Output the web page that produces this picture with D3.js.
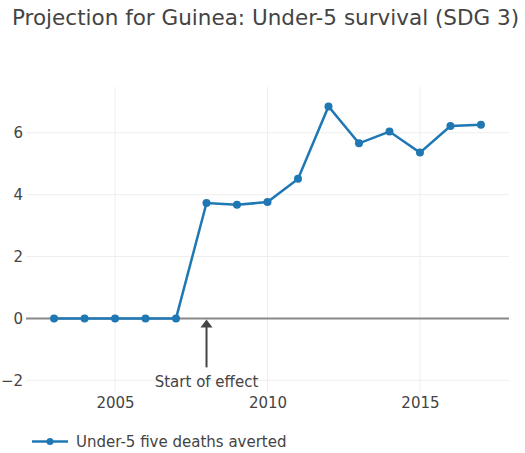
<!DOCTYPE html>
<html><head><meta charset="utf-8">
<script src="https://cdn.jsdelivr.net/npm/d3@7"></script>
<style>body{margin:0;background:#fff;} svg{display:block;}</style>
</head><body>
<svg id="c" width="525" height="453"></svg>
<script>
const years = [2003,2004,2005,2006,2007,2008,2009,2010,2011,2012,2013,2014,2015,2016,2017];
const averted = [0,0,0,0,0,3.73,3.67,3.76,4.51,6.85,5.66,6.04,5.36,6.22,6.26];
const xTicks = [2005,2010,2015];
const yTicks = [-2,0,2,4,6];
const titleText = "Projection for Guinea: Under-5 survival (SDG 3)";
const seriesName = "Under-5 five deaths averted";
const annotation = {year:2008, value:0, text:"Start of effect"};

const font = "Verdana, 'DejaVu Sans', sans-serif";
const svg = d3.select("#c");
const L=26, R=509, T=87, B=392;
const x = d3.scaleLinear().domain([2002.08,2017.92]).range([L,R]);
const y = d3.scaleLinear().domain([-2.38,7.48]).range([B,T]);
const color = "#1f77b4";
const textColor = "#444";

svg.append("text").attr("x",12).attr("y",25).attr("font-family",font).attr("font-size",21.5)
  .attr("fill",textColor).text(titleText);

// grid
const g = svg.append("g");
g.selectAll(".vg").data(xTicks).join("line").attr("x1",d=>x(d)).attr("x2",d=>x(d))
  .attr("y1",T).attr("y2",B).attr("stroke","#eee").attr("stroke-width",1);
g.selectAll(".hg").data(yTicks.filter(d=>d!==0)).join("line").attr("x1",L).attr("x2",R)
  .attr("y1",d=>y(d)).attr("y2",d=>y(d)).attr("stroke","#eee").attr("stroke-width",1);
// zero line
g.append("line").attr("x1",L).attr("x2",R).attr("y1",y(0)).attr("y2",y(0))
  .attr("stroke","#888").attr("stroke-width",2);

// axes labels
const yAxis = d3.axisLeft(y).tickValues(yTicks).tickSize(0).tickPadding(3)
  .tickFormat(d=>d<0?"\u2212"+Math.abs(d):d);
const ya = svg.append("g").attr("transform",`translate(${L},0)`).call(yAxis);
ya.select(".domain").remove();
ya.selectAll("text").attr("font-family",font).attr("font-size",15).attr("fill",textColor);
const xAxis = d3.axisBottom(x).tickValues(xTicks).tickSize(0).tickPadding(5).tickFormat(d3.format("d"));
const xa = svg.append("g").attr("transform",`translate(0,${B})`).call(xAxis);
xa.select(".domain").remove();
xa.selectAll("text").attr("font-family",font).attr("font-size",15).attr("fill",textColor);

// line
const data = years.map((yr,i)=>({yr,v:averted[i]}));
svg.append("path").datum(data).attr("fill","none").attr("stroke",color).attr("stroke-width",2.5)
  .attr("d",d3.line().x(d=>x(d.yr)).y(d=>y(d.v)));
svg.selectAll(".pt").data(data).join("circle").attr("cx",d=>x(d.yr)).attr("cy",d=>y(d.v))
  .attr("r",4).attr("fill",color);

// annotation
const ax = x(annotation.year), ay = y(annotation.value);
svg.append("line").attr("x1",ax).attr("x2",ax).attr("y1",ay+49).attr("y2",ay+8)
  .attr("stroke",textColor).attr("stroke-width",2);
svg.append("path").attr("d",`M${ax},${ay+1} L${ax-6},${ay+9} L${ax+6},${ay+9} Z`).attr("fill",textColor);
svg.append("text").attr("x",ax).attr("y",ay+69).attr("text-anchor","middle")
  .attr("font-family",font).attr("font-size",15).attr("fill",textColor).text(annotation.text);

// legend
svg.append("line").attr("x1",32).attr("x2",68).attr("y1",441.5).attr("y2",441.5).attr("stroke",color).attr("stroke-width",2.5);
svg.append("circle").attr("cx",50).attr("cy",441.5).attr("r",3.5).attr("fill",color);
svg.append("text").attr("x",76).attr("y",447).attr("font-family",font).attr("font-size",15)
  .attr("fill",textColor).text(seriesName);
</script>
</body></html>
